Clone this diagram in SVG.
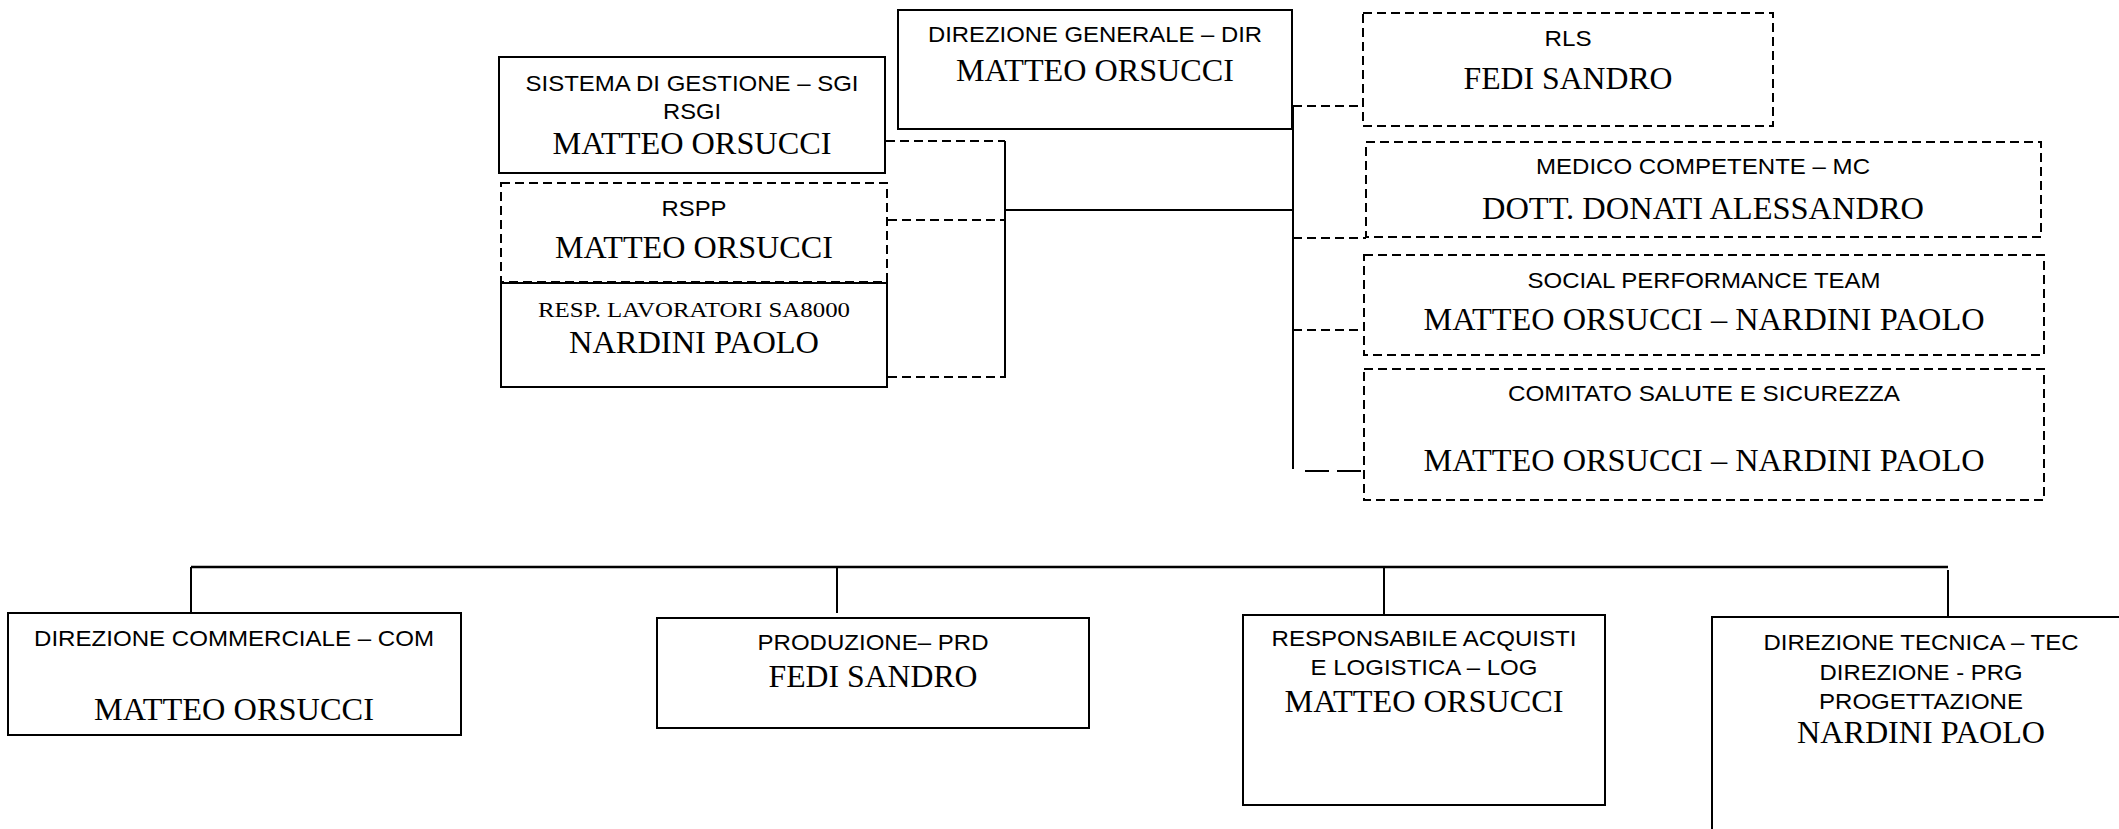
<svg xmlns="http://www.w3.org/2000/svg" width="2119" height="829" viewBox="0 0 2119 829">
<style>
  .box{fill:#fff;stroke:#000;stroke-width:2}
  .dbox{fill:#fff;stroke:#000;stroke-width:2;stroke-dasharray:9 5}
  .ln{stroke:#000;stroke-width:2;fill:none}
  .dl{stroke:#000;stroke-width:2;fill:none;stroke-dasharray:9 5}
  .dl2{stroke:#000;stroke-width:2;fill:none;stroke-dasharray:24 8}
  .bus{stroke:#000;stroke-width:2.5;fill:none}
  text{fill:#000;text-anchor:middle}
  .s{font-family:"Liberation Sans",Arial,sans-serif;font-size:22px}
  .t{font-family:"Liberation Serif","Times New Roman",serif;font-size:31px}
  .ts{font-family:"Liberation Serif","Times New Roman",serif;font-size:21px}
</style>
<rect width="2119" height="829" fill="#fff"/>

<g id="connectors">
  <!-- left bracket -->
  <line class="ln" x1="1005" y1="141" x2="1005" y2="378"/>
  <line class="dl" x1="886" y1="141" x2="1005" y2="141"/>
  <line class="dl" x1="888" y1="220" x2="1005" y2="220"/>
  <line class="dl" x1="888" y1="377" x2="1005" y2="377"/>
  <line class="ln" x1="1005" y1="210" x2="1293" y2="210"/>
  <!-- right trunk -->
  <line class="ln" x1="1293" y1="106" x2="1293" y2="469"/>
  <line class="dl" x1="1293" y1="106" x2="1363" y2="106"/>
  <line class="dl" x1="1293" y1="238" x2="1366" y2="238"/>
  <line class="dl" x1="1293" y1="330" x2="1364" y2="330"/>
  <line class="dl2" x1="1305" y1="471" x2="1364" y2="471"/>
  <!-- bottom bus -->
  <line class="bus" x1="191" y1="567" x2="1948" y2="567"/>
  <line class="ln" x1="191" y1="567" x2="191" y2="613"/>
  <line class="ln" x1="837" y1="566" x2="837" y2="613"/>
  <line class="ln" x1="1384" y1="567" x2="1384" y2="615"/>
  <line class="ln" x1="1948" y1="570" x2="1948" y2="617"/>
</g>

<g id="node-dir">
  <rect class="box" x="898" y="10" width="394" height="119"/>
  <text class="s" x="1095" y="42" textLength="334" lengthAdjust="spacingAndGlyphs">DIREZIONE GENERALE – DIR</text>
  <text class="t" x="1095" y="81" textLength="278" lengthAdjust="spacingAndGlyphs">MATTEO ORSUCCI</text>
</g>

<g id="node-sgi">
  <rect class="box" x="499" y="57" width="386" height="116"/>
  <text class="s" x="692" y="91" textLength="333" lengthAdjust="spacingAndGlyphs">SISTEMA DI GESTIONE – SGI</text>
  <text class="s" x="692" y="119" textLength="58" lengthAdjust="spacingAndGlyphs">RSGI</text>
  <text class="t" x="692" y="154" textLength="279" lengthAdjust="spacingAndGlyphs">MATTEO ORSUCCI</text>
</g>

<g id="node-rspp">
  <rect class="dbox" x="501" y="183" width="386" height="99"/>
  <text class="s" x="694" y="216" textLength="65" lengthAdjust="spacingAndGlyphs">RSPP</text>
  <text class="t" x="694" y="258" textLength="278" lengthAdjust="spacingAndGlyphs">MATTEO ORSUCCI</text>
</g>

<g id="node-sa8000">
  <rect class="box" x="501" y="283" width="386" height="104"/>
  <text class="ts" x="694" y="317" textLength="312" lengthAdjust="spacingAndGlyphs">RESP. LAVORATORI SA8000</text>
  <text class="t" x="694" y="353" textLength="250" lengthAdjust="spacingAndGlyphs">NARDINI PAOLO</text>
</g>

<g id="node-rls">
  <rect class="dbox" x="1363" y="13" width="410" height="113"/>
  <text class="s" x="1568" y="46" textLength="47" lengthAdjust="spacingAndGlyphs">RLS</text>
  <text class="t" x="1568" y="89" textLength="209" lengthAdjust="spacingAndGlyphs">FEDI SANDRO</text>
</g>

<g id="node-mc">
  <rect class="dbox" x="1366" y="142" width="675" height="95"/>
  <text class="s" x="1703" y="174" textLength="334" lengthAdjust="spacingAndGlyphs">MEDICO COMPETENTE – MC</text>
  <text class="t" x="1703" y="219" textLength="442" lengthAdjust="spacingAndGlyphs">DOTT. DONATI ALESSANDRO</text>
</g>

<g id="node-spt">
  <rect class="dbox" x="1364" y="255" width="680" height="100"/>
  <text class="s" x="1704" y="288" textLength="353" lengthAdjust="spacingAndGlyphs">SOCIAL PERFORMANCE TEAM</text>
  <text class="t" x="1704" y="330" textLength="561" lengthAdjust="spacingAndGlyphs">MATTEO ORSUCCI – NARDINI PAOLO</text>
</g>

<g id="node-css">
  <rect class="dbox" x="1364" y="369" width="680" height="131"/>
  <text class="s" x="1704" y="401" textLength="392" lengthAdjust="spacingAndGlyphs">COMITATO SALUTE E SICUREZZA</text>
  <text class="t" x="1704" y="471" textLength="561" lengthAdjust="spacingAndGlyphs">MATTEO ORSUCCI – NARDINI PAOLO</text>
</g>

<g id="node-com">
  <rect class="box" x="8" y="613" width="453" height="122"/>
  <text class="s" x="234" y="646" textLength="400" lengthAdjust="spacingAndGlyphs">DIREZIONE COMMERCIALE – COM</text>
  <text class="t" x="234" y="720" textLength="280" lengthAdjust="spacingAndGlyphs">MATTEO ORSUCCI</text>
</g>

<g id="node-prd">
  <rect class="box" x="657" y="618" width="432" height="110"/>
  <text class="s" x="873" y="650" textLength="231" lengthAdjust="spacingAndGlyphs">PRODUZIONE– PRD</text>
  <text class="t" x="873" y="687" textLength="209" lengthAdjust="spacingAndGlyphs">FEDI SANDRO</text>
</g>

<g id="node-log">
  <rect class="box" x="1243" y="615" width="362" height="190"/>
  <text class="s" x="1424" y="646" textLength="305" lengthAdjust="spacingAndGlyphs">RESPONSABILE ACQUISTI</text>
  <text class="s" x="1424" y="675" textLength="227" lengthAdjust="spacingAndGlyphs">E LOGISTICA – LOG</text>
  <text class="t" x="1424" y="712" textLength="279" lengthAdjust="spacingAndGlyphs">MATTEO ORSUCCI</text>
</g>

<g id="node-tec">
  <rect class="box" x="1712" y="617" width="418" height="243"/>
  <text class="s" x="1921" y="650" textLength="315" lengthAdjust="spacingAndGlyphs">DIREZIONE TECNICA – TEC</text>
  <text class="s" x="1921" y="680" textLength="203" lengthAdjust="spacingAndGlyphs">DIREZIONE - PRG</text>
  <text class="s" x="1921" y="709" textLength="204" lengthAdjust="spacingAndGlyphs">PROGETTAZIONE</text>
  <text class="t" x="1921" y="743" textLength="248" lengthAdjust="spacingAndGlyphs">NARDINI PAOLO</text>
</g>
</svg>
